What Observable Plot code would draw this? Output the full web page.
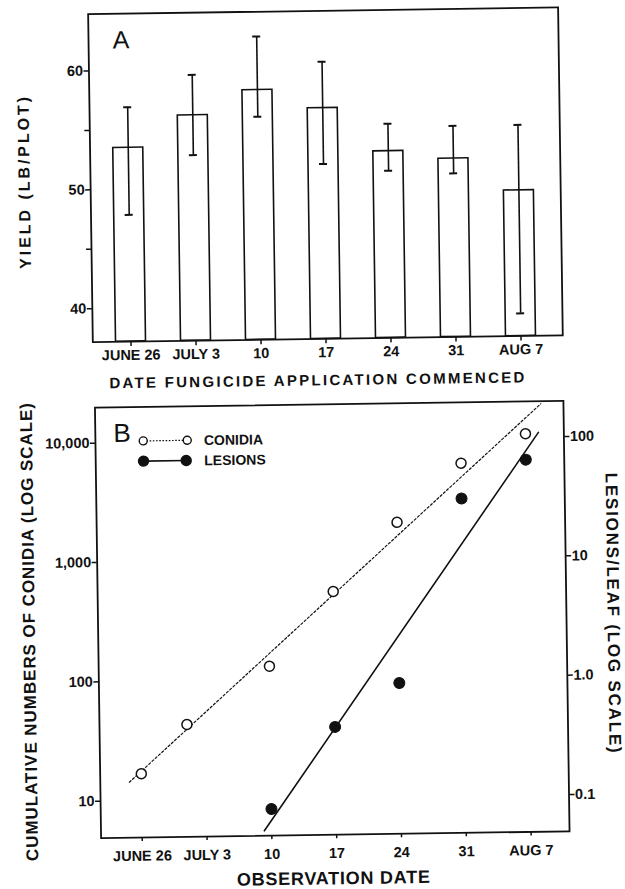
<!DOCTYPE html>
<html>
<head>
<meta charset="utf-8">
<script src="https://cdn.jsdelivr.net/npm/d3@7"></script>
<script src="https://cdn.jsdelivr.net/npm/@observablehq/plot@0.6"></script>
<style>
html, body { margin: 0; padding: 0; background: #fff; overflow: hidden; }
#wrap { position: relative; width: 625px; height: 889px; transform-origin: 312.5px 444.5px; transform: rotate(-0.817deg); }
#panelA { position: absolute; left: 0; top: 0; }
#panelB { position: absolute; left: 0; top: 392px; }
svg { overflow: visible; }
</style>
</head>
<body>
<div id="wrap"><div id="panelA"></div><div id="panelB"></div></div>
<script>
// ---------- Panel A : yield by date fungicide application commenced ----------
const applicationDates = ["JUNE 26", "JULY 3", "10", "17", "24", "31", "AUG 7"];
const yieldMean = [53.5, 56.15, 58.2, 56.6, 52.9, 52.2, 49.45];
const yieldHigh = [56.9, 59.55, 62.7, 60.5, 55.2, 54.95, 54.95];
const yieldLow  = [47.85, 52.8, 55.95, 51.9, 51.25, 50.95, 39.1];
const yieldTicks = [40, 45, 50, 55, 60];
const yieldTickLabels = ["40", "", "50", "", "60"];

// ---------- Panel B : conidia and lesions by observation date ----------
// x = days after June 26
const obsTickDays = [0, 7, 14, 21, 28, 35, 42];
const obsTickLabels = ["JUNE 26", "JULY 3", "10", "17", "24", "31", "AUG 7"];
const conidiaDays = [0, 5, 14, 21, 28, 35, 42];
const conidiaCounts = [16.8, 42.9, 129, 536, 2000, 6150, 10660];
const lesionDays = [14, 21, 28, 35, 42];
const lesionsPerLeaf = [0.082, 0.393, 0.90, 31.1, 64.6];
const conidiaFitDays = [-1.3, 43.7];
const conidiaFitCounts = [14.3, 18900];
const lesionFitDays = [13.2, 43.4];
const lesionFitValues = [0.054, 109];
const conidiaTicks = [10, 100, 1000, 10000];
const lesionTicks = [0.1, 1, 10, 100];
const lesionTickLabels = ["0.1", "1.0", "10", "100"];
const lesionToConidiaFactor = 100; // right axis reads left axis / 100

const INK = "#111";
const FONT = "'Liberation Sans', Arial, Helvetica, sans-serif";

// ---------- build A ----------
const yieldData = applicationDates.map((d, i) => ({date: d, mean: yieldMean[i], lo: yieldLow[i], hi: yieldHigh[i]}));
const yDomA = [37.19, 64.78];
const plotA = Plot.plot({
  width: 625, height: 392,
  marginLeft: 93.8, marginRight: 61.2, marginTop: 10.5, marginBottom: 53.5,
  style: {fontFamily: FONT, fontSize: "14.5px", fontWeight: "bold", color: INK, background: "transparent", overflow: "visible"},
  x: {type: "band", domain: applicationDates, paddingInner: 0.54, paddingOuter: 0.376, align: 0.463, label: null},
  y: {domain: yDomA, label: null},
  marks: [
    Plot.barY(yieldData, {x: "date", y1: yDomA[0], y2: "mean", fill: "white", stroke: INK, strokeWidth: 1.6}),
    Plot.ruleX(yieldData, {x: "date", y1: "lo", y2: "hi", stroke: INK, strokeWidth: 1.6}),
    Plot.tickY(yieldData, {x: "date", y: "hi", insetLeft: 11, insetRight: 11, stroke: INK, strokeWidth: 2}),
    Plot.tickY(yieldData, {x: "date", y: "lo", insetLeft: 11, insetRight: 11, stroke: INK, strokeWidth: 2}),
    Plot.frame({stroke: INK, strokeWidth: 1.8}),
    Plot.axisY({ticks: yieldTicks, tickFormat: d => yieldTickLabels[yieldTicks.indexOf(d)], tickSize: 5, tickPadding: 1, strokeWidth: 1.5, label: null}),
    Plot.axisX({tickSize: 5, tickPadding: 3, strokeWidth: 1.5, label: null}),
    Plot.text(["A"], {frameAnchor: "top-left", dx: 24, dy: 17, textAnchor: "start", lineAnchor: "top", fontSize: 25, fontWeight: "normal"}),
    Plot.text(["YIELD (LB/PLOT)"], {frameAnchor: "left", dx: -66, dy: 2.4, rotate: -90, textAnchor: "middle", lineAnchor: "middle", fontSize: 16}),
    Plot.text(["DATE FUNGICIDE APPLICATION COMMENCED"], {frameAnchor: "bottom", dx: -10.4, dy: 41.6, textAnchor: "middle", lineAnchor: "middle", fontSize: 15})
  ]
});
document.getElementById("panelA").append(plotA);

// ---------- build B ----------
const conidia = conidiaDays.map((d, i) => ({day: d, v: conidiaCounts[i]}));
const lesions = lesionDays.map((d, i) => ({day: d, v: lesionsPerLeaf[i] * lesionToConidiaFactor}));
const conidiaFit = conidiaFitDays.map((d, i) => ({day: d, v: conidiaFitCounts[i]}));
const lesionFit = lesionFitDays.map((d, i) => ({day: d, v: lesionFitValues[i] * lesionToConidiaFactor}));
const rightTicks = lesionTicks.map(v => v * lesionToConidiaFactor);

const plotB = Plot.plot({
  width: 625, height: 497,
  marginLeft: 95, marginRight: 61.5, marginTop: 12, marginBottom: 54.5,
  style: {fontFamily: FONT, fontSize: "14.5px", fontWeight: "bold", color: INK, background: "transparent", overflow: "visible"},
  x: {domain: [-4.44, 46.15], label: null},
  y: {type: "log", domain: [4.91, 19860], label: null},
  marks: [
    Plot.line(conidiaFit, {x: "day", y: "v", stroke: INK, strokeWidth: 1.2, strokeDasharray: "2.2,2.2"}),
    Plot.line(lesionFit, {x: "day", y: "v", stroke: INK, strokeWidth: 1.6}),
    Plot.dot(conidia, {x: "day", y: "v", r: 5, fill: "white", stroke: INK, strokeWidth: 1.5}),
    Plot.dot(lesions, {x: "day", y: "v", r: 5.5, fill: INK, stroke: INK, strokeWidth: 1}),
    Plot.frame({stroke: INK, strokeWidth: 1.8}),
    Plot.axisY({ticks: conidiaTicks, tickFormat: d3.format(","), tickSize: 5, tickPadding: 1, strokeWidth: 1.5, label: null}),
    Plot.axisY({anchor: "right", ticks: rightTicks, tickFormat: d => lesionTickLabels[rightTicks.indexOf(d)], tickSize: 5, tickPadding: 1, strokeWidth: 1.5, label: null}),
    Plot.axisX({ticks: obsTickDays, tickFormat: d => obsTickLabels[obsTickDays.indexOf(d)], tickSize: 4, tickPadding: 9, strokeWidth: 1.5, label: null}),
    Plot.text(["B"], {frameAnchor: "top-left", dx: 18, dy: 16.3, textAnchor: "start", lineAnchor: "top", fontSize: 26, fontWeight: "normal"}),
    Plot.text(["CUMULATIVE NUMBERS OF CONIDIA (LOG SCALE)"], {frameAnchor: "left", dx: -68.7, dy: 7.75, rotate: -90, textAnchor: "middle", lineAnchor: "middle", fontSize: 17}),
    Plot.text(["LESIONS/LEAF (LOG SCALE)"], {frameAnchor: "right", dx: 46.6, dy: -1.9, rotate: 90, textAnchor: "middle", lineAnchor: "middle", fontSize: 17}),
    Plot.text(["OBSERVATION DATE"], {frameAnchor: "bottom", dx: -2.2, dy: 43.8, textAnchor: "middle", lineAnchor: "middle", fontSize: 18})
  ]
});
document.getElementById("panelB").append(plotB);

// ---------- legend for B ----------
const legend = d3.select(plotB).append("g").attr("fill", INK).attr("stroke", INK);
const rows = [
  {label: "CONIDIA", y: 46.5, x1: 143.3, x2: 187.3, r: 4, fill: "white", dash: "1.6,1.6", sw: 1.2},
  {label: "LESIONS", y: 66.7, x1: 143.3, x2: 186, r: 5, fill: INK, dash: null, sw: 1.6}
];
rows.forEach(row => {
  legend.append("line").attr("x1", row.x1).attr("x2", row.x2).attr("y1", row.y).attr("y2", row.y)
    .attr("stroke-width", row.sw).attr("stroke-dasharray", row.dash);
  [row.x1, row.x2].forEach(cx => legend.append("circle").attr("cx", cx).attr("cy", row.y).attr("r", row.r)
    .attr("fill", row.fill).attr("stroke-width", 1.4));
  legend.append("text").attr("x", 204).attr("y", row.y).attr("dy", "0.36em").attr("stroke", "none")
    .attr("text-anchor", "start")
    .attr("font-size", 14).attr("font-weight", "bold").attr("font-family", FONT).text(row.label);
});

// ---------- letter-spaced titles ----------
const titleLengths = {
  "YIELD (LB/PLOT)": 172,
  "DATE FUNGICIDE APPLICATION COMMENCED": 415,
  "CUMULATIVE NUMBERS OF CONIDIA (LOG SCALE)": 458,
  "LESIONS/LEAF (LOG SCALE)": 280,
  "OBSERVATION DATE": 193
};
[plotA, plotB].forEach(svg => {
  d3.select(svg).selectAll("text").each(function() {
    const t = this.textContent;
    if (titleLengths[t]) {
      const natural = this.getComputedTextLength();
      const ls = (titleLengths[t] - natural) / (t.length - 1);
      this.style.letterSpacing = ls + "px";
    }
  });
});
</script>
</body>
</html>
